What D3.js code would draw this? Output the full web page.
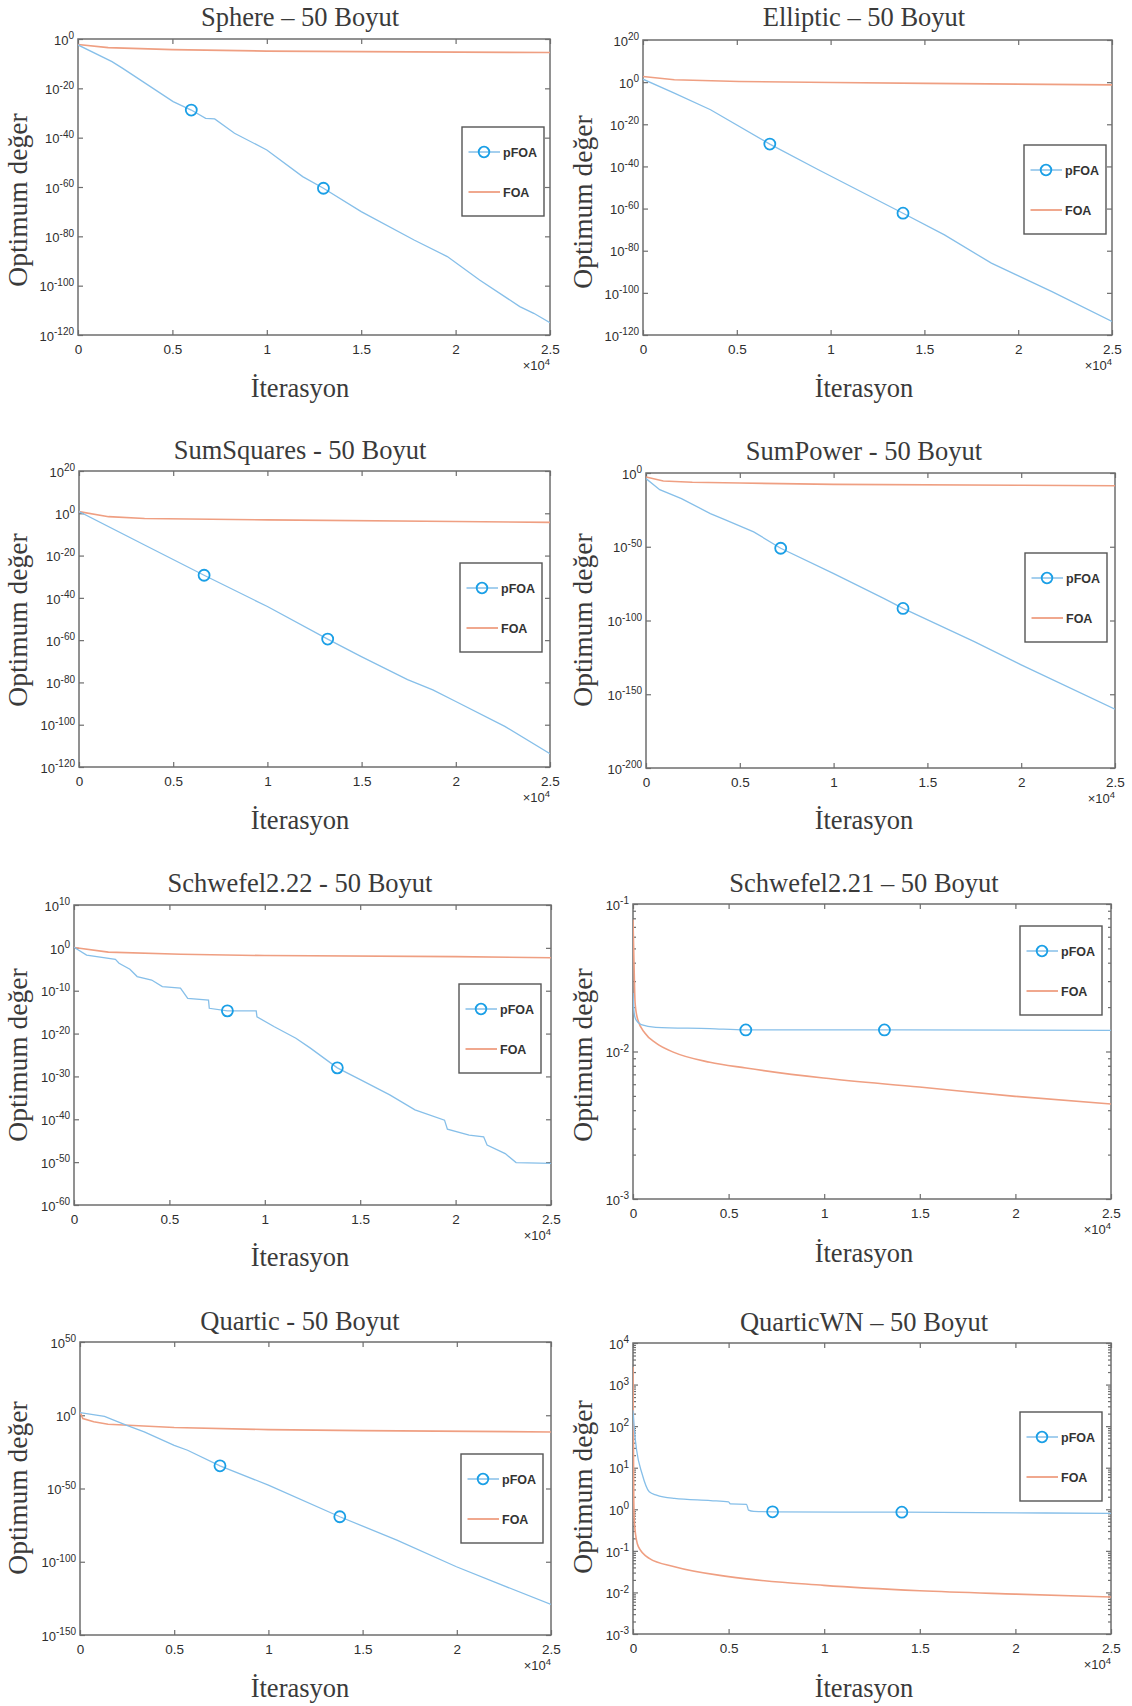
<!DOCTYPE html>
<html>
<head>
<meta charset="utf-8">
<script src="https://cdn.jsdelivr.net/npm/d3@7"></script>
<style>
  body { margin: 0; background: #fff; }
  svg { display: block; }
</style>
</head>
<body>
<svg id="fig"></svg>
<script>
const W = 1132, H = 1706;

// titles of the 8 panels
const titles = ["Sphere – 50 Boyut", "Elliptic – 50 Boyut", "SumSquares - 50 Boyut", "SumPower - 50 Boyut",
  "Schwefel2.22 - 50 Boyut", "Schwefel2.21 – 50 Boyut", "Quartic - 50 Boyut", "QuarticWN – 50 Boyut"];
const seriesNames = ["pFOA", "FOA"];
const xTicks = [0, 0.5, 1, 1.5, 2, 2.5];   // x10^4 iterations

// y tick exponents (10^n) per panel
const yTickExp = [
  [0, -20, -40, -60, -80, -100, -120],
  [20, 0, -20, -40, -60, -80, -100, -120],
  [20, 0, -20, -40, -60, -80, -100, -120],
  [0, -50, -100, -150, -200],
  [10, 0, -10, -20, -30, -40, -50, -60],
  [-1, -2, -3],
  [50, 0, -50, -100, -150],
  [4, 3, 2, 1, 0, -1, -2, -3]
];

// curves: [iteration x10^4, log10(value)]
const spherePFOA = [[0,-2.4],[0.18,-9.2],[0.237,-11.9],[0.504,-25.4],[0.6,-28.8],[0.676,-32.2],[0.724,-32.4],[0.829,-38.2],[1.0,-45],[1.19,-55.8],[1.3,-60.5],[1.5,-70],[1.78,-81.5],[1.956,-88.2],[2.127,-97.7],[2.34,-108.5],[2.414,-111.2],[2.5,-115]];
const sphereFOA = [[0,-2.2],[0.16,-3.5],[0.5,-4.3],[1.0,-4.9],[1.5,-5.1],[2.5,-5.5]];
const spherePts = [[0.6,-28.8],[1.3,-60.5]];

const ellipticPFOA = [[0,1.4],[0.167,-5.2],[0.36,-13.1],[0.676,-29.4],[0.935,-41.6],[1.386,-62.2],[1.607,-72.5],[1.857,-85.9],[1.99,-91.5],[2.18,-99.4],[2.5,-113.6]];
const ellipticFOA = [[0,2.7],[0.167,1.1],[0.513,0.3],[1.01,-0.2],[1.51,-0.6],[2.5,-1.3]];
const ellipticPts = [[0.676,-29.4],[1.386,-62.2]];

const sumSqPFOA = [[0,0.8],[0.348,-15],[0.664,-29.3],[1.0,-44.1],[1.32,-59.5],[1.496,-67.7],[1.744,-78.7],[1.878,-83.5],[2.0,-89],[2.26,-100.8],[2.5,-113.7]];
const sumSqFOA = [[0,0.8],[0.157,-1.6],[0.348,-2.5],[1.0,-3.1],[2.0,-3.9],[2.5,-4.3]];
const sumSqPts = [[0.664,-29.3],[1.32,-59.5]];

const sumPowPFOA = [[0,-3.8],[0.073,-11.3],[0.189,-17.4],[0.343,-27.5],[0.42,-31.6],[0.574,-39.9],[0.718,-51],[0.998,-68.1],[1.267,-85],[1.37,-91.8],[1.75,-114.3],[2.0,-130.1],[2.5,-160.1]];
const sumPowFOA = [[0,-2.7],[0.092,-5.4],[0.247,-6.3],[0.5,-6.8],[1.0,-7.7],[2.0,-8.3],[2.5,-8.6]];
const sumPowPts = [[0.718,-51],[1.37,-91.8]];

const schw22PFOA = [[0,0.12],[0.066,-1.7],[0.217,-2.7],[0.236,-3.6],[0.293,-5.0],[0.331,-6.7],[0.407,-7.5],[0.463,-9.05],[0.558,-9.4],[0.596,-11.8],[0.705,-12.2],[0.709,-14.1],[0.804,-14.7],[0.955,-14.7],[0.959,-16.1],[1.05,-18.4],[1.163,-21.1],[1.239,-23.4],[1.38,-28.0],[1.503,-30.8],[1.655,-34.3],[1.787,-37.8],[1.942,-40.2],[1.957,-42.3],[2.071,-43.7],[2.147,-44.1],[2.165,-46.0],[2.26,-48.0],[2.317,-50.1],[2.5,-50.3]];
const schw22FOA = [[0,0.1],[0.18,-1.0],[0.56,-1.5],[1.0,-1.8],[2.0,-2.05],[2.5,-2.3]];
const schw22Pts = [[0.804,-14.7],[1.38,-28.0]];

const schw21PFOA = [[0,-1.603],[0.006,-1.738],[0.015,-1.784],[0.043,-1.818],[0.119,-1.836],[0.402,-1.845],[0.59,-1.854],[1.315,-1.854],[2.5,-1.857]];
const schw21FOA = [[0,-1.106],[0.006,-1.445],[0.011,-1.671],[0.025,-1.784],[0.062,-1.875],[0.119,-1.942],[0.214,-2.006],[0.402,-2.073],[0.591,-2.112],[0.996,-2.18],[1.498,-2.241],[1.999,-2.304],[2.5,-2.356]];
const schw21Pts = [[0.59,-1.854],[1.315,-1.854]];

const quarticPFOA = [[0,1.8],[0.13,-0.7],[0.245,-6.8],[0.341,-11.4],[0.5,-20.5],[0.571,-23.9],[0.743,-34.5],[1.0,-47.7],[1.379,-69.3],[1.682,-85.2],[1.998,-103.4],[2.218,-114.8],[2.5,-129.1]];
const quarticFOA = [[0,2.3],[0.015,-2.3],[0.073,-4.5],[0.149,-6.1],[0.5,-8.4],[1.0,-9.8],[1.5,-10.5],[2.5,-11.4]];
const quarticPts = [[0.743,-34.5],[1.379,-69.3]];

const quarticWNPFOA = [[0,2.38],[0.009,1.82],[0.019,1.42],[0.047,0.86],[0.085,0.42],[0.123,0.34],[0.217,0.26],[0.406,0.21],[0.5,0.18],[0.509,0.13],[0.594,0.12],[0.604,-0.02],[0.632,-0.05],[0.73,-0.06],[1.406,-0.07],[2.5,-0.1]];
const quarticWNFOA = [[0,3.42],[0.002,1.82],[0.004,0.22],[0.009,-0.42],[0.028,-0.9],[0.085,-1.18],[0.217,-1.38],[0.5,-1.62],[0.998,-1.83],[1.5,-1.96],[2.0,-2.04],[2.5,-2.11]];
const quarticWNPts = [[0.73,-0.06],[1.406,-0.07]];

const pfoaSeries = [spherePFOA, ellipticPFOA, sumSqPFOA, sumPowPFOA, schw22PFOA, schw21PFOA, quarticPFOA, quarticWNPFOA];
const foaSeries = [sphereFOA, ellipticFOA, sumSqFOA, sumPowFOA, schw22FOA, schw21FOA, quarticFOA, quarticWNFOA];
const markerSeries = [spherePts, ellipticPts, sumSqPts, sumPowPts, schw22Pts, schw21Pts, quarticPts, quarticWNPts];

// panel geometry (pixels): plot box, title / label anchors, legend box
const layout = [
  {l:78,  r:550,  t:39,   b:335,  tx:300, ty:26,   xly:397,  ylx:18,  yly:200,  lg:[462,127]},
  {l:643, r:1112, t:40,   b:335,  tx:864, ty:26,   xly:397,  ylx:583, yly:202,  lg:[1024,145]},
  {l:79,  r:550,  t:471,  b:767,  tx:300, ty:459,  xly:829,  ylx:18,  yly:620,  lg:[460,563]},
  {l:646, r:1115, t:473,  b:768,  tx:864, ty:460,  xly:829,  ylx:583, yly:620,  lg:[1025,553]},
  {l:74,  r:551,  t:905,  b:1205, tx:300, ty:892,  xly:1266, ylx:18,  yly:1055, lg:[459,984]},
  {l:633, r:1111, t:904,  b:1199, tx:864, ty:892,  xly:1262, ylx:583, yly:1055, lg:[1020,926]},
  {l:80,  r:551,  t:1342, b:1635, tx:300, ty:1330, xly:1697, ylx:18,  yly:1488, lg:[461,1454]},
  {l:633, r:1111, t:1343, b:1634, tx:864, ty:1331, xly:1697, ylx:583, yly:1487, lg:[1020,1412]}
];
const minorTicks = [false, false, false, false, false, true, false, true];
const smooth = [false, false, false, false, false, true, false, true];

const blueLine = "#86bfe9", blueMark = "#1a9fe6", orange = "#ef9f82";
const boxCol = "#6e6e6e", tickTxt = "#2e2e2e", titleCol = "#3a3a3a";
const sansF = "'Liberation Sans', Arial, Helvetica, sans-serif";
const serifF = "'Liberation Serif', 'Times New Roman', serif";

const svg = d3.select("#fig").attr("width", W).attr("height", H)
  .style("background", "#fff");

const supExp = n => (n < 0 ? "-" : "") + Math.abs(n);

titles.forEach((title, i) => {
  const L = layout[i];
  const exps = yTickExp[i];
  const g = svg.append("g");

  const x = d3.scaleLinear().domain([0, 2.5]).range([L.l, L.r]);
  const y = d3.scaleLog()
    .domain([Math.pow(10, d3.min(exps)), Math.pow(10, d3.max(exps))])
    .range([L.b, L.t]);
  const yVals = exps.map(e => Math.pow(10, e));

  // clip
  const cid = "clip" + i;
  g.append("clipPath").attr("id", cid).append("rect")
    .attr("x", L.l).attr("y", L.t).attr("width", L.r - L.l).attr("height", L.b - L.t);

  // minor log ticks
  let minors = [];
  if (minorTicks[i]) {
    for (let e = d3.min(exps); e < d3.max(exps); e++)
      for (let k = 2; k <= 9; k++) minors.push(k * Math.pow(10, e));
  }

  // axes with inward ticks
  const fmtNone = () => "";
  g.append("g").attr("transform", `translate(0,${L.b})`)
    .call(d3.axisBottom(x).tickValues(xTicks).tickSizeInner(-5).tickSizeOuter(0).tickPadding(9)
      .tickFormat(d => d3.format("")(d)));
  g.append("g").attr("transform", `translate(0,${L.t})`)
    .call(d3.axisTop(x).tickValues(xTicks).tickSizeInner(-5).tickSizeOuter(0).tickFormat(fmtNone));
  const yl = g.append("g").attr("transform", `translate(${L.l},0)`)
    .call(d3.axisLeft(y).tickValues(yVals).tickSizeInner(-5).tickSizeOuter(0).tickPadding(4));
  g.append("g").attr("transform", `translate(${L.r},0)`)
    .call(d3.axisRight(y).tickValues(yVals).tickSizeInner(-5).tickSizeOuter(0).tickFormat(fmtNone));
  if (minors.length) {
    g.append("g").attr("transform", `translate(${L.l},0)`)
      .call(d3.axisLeft(y).tickValues(minors).tickSizeInner(-3).tickSizeOuter(0).tickFormat(fmtNone));
    g.append("g").attr("transform", `translate(${L.r},0)`)
      .call(d3.axisRight(y).tickValues(minors).tickSizeInner(-3).tickSizeOuter(0).tickFormat(fmtNone));
  }

  g.selectAll(".domain").remove();
  g.selectAll(".tick line").attr("stroke", boxCol).attr("stroke-width", 1.2);
  g.selectAll(".tick text").attr("fill", tickTxt).style("font-family", sansF).style("font-size", "13.5px");

  // 10^n labels
  yl.selectAll(".tick text").each(function (d) {
    const t = d3.select(this);
    const e = Math.round(Math.log10(d));
    t.text(null).attr("dy", "0.4em").style("font-size", "13px");
    t.append("tspan").text("10");
    t.append("tspan").attr("dy", "-0.55em").style("font-size", "10px").text(supExp(e));
  });

  // x10^4 multiplier
  const mult = g.append("text").attr("x", L.r).attr("y", L.b + 35)
    .attr("text-anchor", "end").attr("fill", tickTxt)
    .style("font-family", sansF).style("font-size", "13px");
  mult.append("tspan").text("×10");
  mult.append("tspan").attr("dy", "-0.55em").style("font-size", "9.5px").text("4");

  // box
  g.append("rect").attr("x", L.l).attr("y", L.t).attr("width", L.r - L.l).attr("height", L.b - L.t)
    .attr("fill", "none").attr("stroke", boxCol).attr("stroke-width", 1.5);

  const line = d3.line()
    .x(d => x(d[0])).y(d => y(Math.pow(10, d[1])))
    .curve(smooth[i] ? d3.curveMonotoneX : d3.curveLinear);

  const plot = g.append("g").attr("clip-path", `url(#${cid})`);
  plot.append("path").datum(foaSeries[i]).attr("d", line)
    .attr("fill", "none").attr("stroke", orange).attr("stroke-width", 1.6);
  plot.append("path").datum(pfoaSeries[i]).attr("d", line)
    .attr("fill", "none").attr("stroke", blueLine).attr("stroke-width", 1.3);
  plot.selectAll("circle.mk").data(markerSeries[i]).join("circle").attr("class", "mk")
    .attr("cx", d => x(d[0])).attr("cy", d => y(Math.pow(10, d[1])))
    .attr("r", 5.5).attr("fill", "none").attr("stroke", blueMark).attr("stroke-width", 1.8);

  // title and axis labels
  g.append("text").attr("x", L.tx).attr("y", L.ty).attr("text-anchor", "middle")
    .attr("fill", titleCol).style("font-family", serifF).style("font-size", "26.5px").text(title);
  g.append("text").attr("x", L.tx).attr("y", L.xly).attr("text-anchor", "middle")
    .attr("fill", titleCol).style("font-family", serifF).style("font-size", "26.5px").text("İterasyon");
  g.append("text").attr("transform", `translate(${L.ylx + 9},${L.yly}) rotate(-90)`)
    .attr("text-anchor", "middle").attr("fill", titleCol)
    .style("font-family", serifF).style("font-size", "27.5px").text("Optimum değer");

  // legend
  const [lx, ly] = L.lg;
  const lg = g.append("g").attr("transform", `translate(${lx},${ly})`);
  lg.append("rect").attr("width", 82).attr("height", 89).attr("fill", "#fff")
    .attr("stroke", "#555").attr("stroke-width", 1.4);
  const rows = lg.selectAll("g.row").data(seriesNames).join("g").attr("class", "row")
    .attr("transform", (d, k) => `translate(0,${k === 0 ? 25 : 65})`);
  rows.append("line").attr("x1", 6.5).attr("x2", 38)
    .attr("stroke", (d, k) => k === 0 ? blueLine : orange).attr("stroke-width", (d, k) => k === 0 ? 1.5 : 1.8);
  rows.filter((d, k) => k === 0).append("circle").attr("cx", 22).attr("r", 5.3)
    .attr("fill", "none").attr("stroke", blueMark).attr("stroke-width", 1.8);
  rows.append("text").attr("x", 41).attr("dy", "0.36em").attr("fill", "#333")
    .style("font-family", sansF).style("font-size", "12.5px").style("font-weight", "bold").text(d => d);
});
</script>
</body>
</html>
